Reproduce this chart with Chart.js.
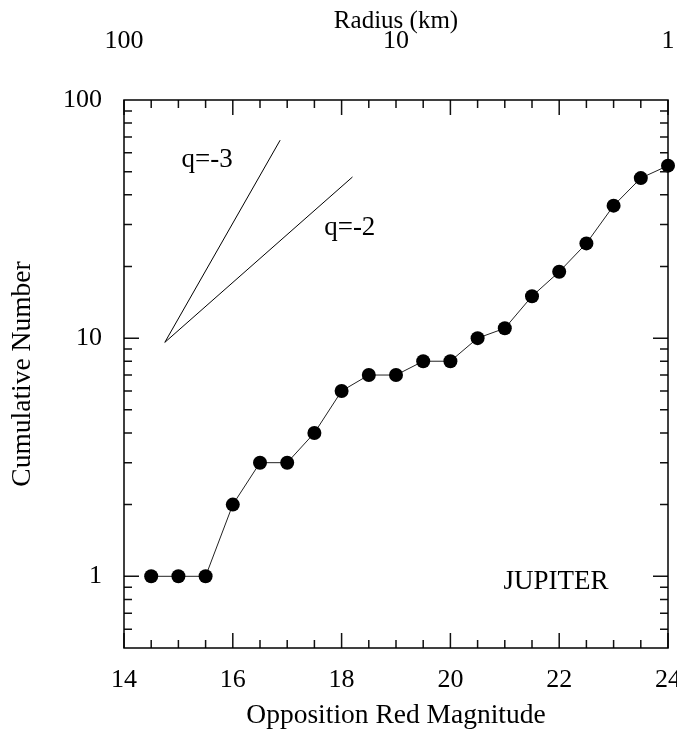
<!DOCTYPE html>
<html>
<head>
<meta charset="utf-8">
<script src="https://cdn.jsdelivr.net/npm/chart.js@4"></script>
<style>
  body { margin: 0; background: #fff; }
</style>
</head>
<body>
<canvas id="chart" width="677" height="743"></canvas>
<script>
// cumulative counts vs opposition red magnitude
const magnitudes = [14.5, 15, 15.5, 16, 16.5, 17, 17.5, 18, 18.5, 19, 19.5, 20, 20.5, 21, 21.5, 22, 22.5, 23, 23.5, 24];
const cumulative = [1, 1, 1, 2, 3, 3, 4, 6, 7, 7, 8, 8, 10, 11, 15, 19, 25, 36, 47, 53];

// reference slopes
const slopeQ3x = [14.75, 16.87];
const slopeQ3y = [9.6, 67.8];
const slopeQ2x = [14.75, 18.2];
const slopeQ2y = [9.6, 47.5];

// tick labels
const magTicks = [14, 16, 18, 20, 22, 24];
const countTicks = [1, 10, 100];
const radiusTicks = [1, 10, 100];

// text notes inside the plot
const noteText = ['q=-3', 'q=-2', 'JUPITER'];
const noteMag = [15.53, 18.15, 21.94];
const noteCount = [56, 29, 0.95];

const FAMILY = '"Liberation Serif", "Times New Roman", serif';
Chart.defaults.color = '#000';
Chart.defaults.font.family = FAMILY;

const font = size => ({ family: FAMILY, size: size });
const toPoints = (xs, ys) => xs.map((x, i) => ({ x: x, y: ys[i] }));

// inward tick marks on all four sides + frame + notes
const framePlugin = {
  id: 'frame',
  afterDatasetsDraw(chart) {
    const ctx = chart.ctx;
    const a = chart.chartArea;
    const x = chart.scales.x;
    const y = chart.scales.y;
    ctx.save();
    ctx.strokeStyle = '#111';
    ctx.lineWidth = 1.5;

    ctx.beginPath();
    for (let m = 14; m <= 24.001; m += 0.5) {
      const px = x.getPixelForValue(m);
      const len = (m % 2 === 0) ? 15 : 8;
      ctx.moveTo(px, a.bottom); ctx.lineTo(px, a.bottom - len);
      ctx.moveTo(px, a.top); ctx.lineTo(px, a.top + len);
    }
    for (let dec = 0.1; dec < 100; dec *= 10) {
      for (let k = 1; k <= 9; k++) {
        const v = dec * k;
        if (v < 0.55 || v > 100) continue;
        const py = y.getPixelForValue(v);
        const len = (k === 1) ? 15 : 8;
        ctx.moveTo(a.left, py); ctx.lineTo(a.left + len, py);
        ctx.moveTo(a.right, py); ctx.lineTo(a.right - len, py);
      }
    }
    ctx.stroke();

    ctx.strokeStyle = '#000';
    ctx.strokeRect(a.left, a.top, a.right - a.left, a.bottom - a.top);

    ctx.fillStyle = '#000';
    ctx.font = '27px ' + FAMILY;
    ctx.textAlign = 'center';
    ctx.textBaseline = 'middle';
    noteText.forEach((t, i) => {
      ctx.fillText(t, x.getPixelForValue(noteMag[i]), y.getPixelForValue(noteCount[i]));
    });
    ctx.restore();
  }
};

const ctx = document.getElementById('chart').getContext('2d');
new Chart(ctx, {
  type: 'line',
  data: {
    datasets: [
      {
        label: 'Jupiter',
        data: toPoints(magnitudes, cumulative),
        borderColor: '#222',
        borderWidth: 1,
        backgroundColor: '#000',
        pointRadius: 7,
        pointBorderWidth: 0,
        pointBackgroundColor: '#000',
        tension: 0,
        clip: false
      },
      {
        label: 'q=-3',
        data: toPoints(slopeQ3x, slopeQ3y),
        borderColor: '#000',
        borderWidth: 1,
        pointRadius: 0
      },
      {
        label: 'q=-2',
        data: toPoints(slopeQ2x, slopeQ2y),
        borderColor: '#000',
        borderWidth: 1,
        pointRadius: 0
      }
    ]
  },
  options: {
    responsive: false,
    animation: false,
    layout: { padding: { right: 9 } },
    plugins: {
      legend: { display: false },
      tooltip: { enabled: false }
    },
    scales: {
      x: {
        type: 'linear',
        position: 'bottom',
        min: 14,
        max: 24,
        afterBuildTicks: s => { s.ticks = magTicks.map(v => ({ value: v })); },
        afterFit: s => { s.height = 95; s.paddingLeft = 0; s.paddingRight = 0; },
        grid: { display: false, drawTicks: false },
        border: { display: false },
        ticks: { padding: 17, font: font(26), callback: v => String(v) },
        title: {
          display: true,
          text: 'Opposition Red Magnitude',
          font: font(27.5),
          padding: { top: 0, bottom: 11 }
        }
      },
      radius: {
        type: 'logarithmic',
        position: 'top',
        min: 1,
        max: 100,
        reverse: true,
        afterBuildTicks: s => { s.ticks = radiusTicks.map(v => ({ value: v })); },
        afterFit: s => { s.height = 100; s.paddingLeft = 0; s.paddingRight = 0; },
        grid: { display: false, drawTicks: false },
        border: { display: false },
        ticks: { padding: 43, font: font(26), callback: v => String(v) },
        title: {
          display: true,
          text: 'Radius (km)',
          font: font(25),
          padding: { top: 6, bottom: 0 }
        }
      },
      y: {
        type: 'logarithmic',
        position: 'left',
        min: 0.5,
        max: 100,
        afterBuildTicks: s => { s.ticks = countTicks.map(v => ({ value: v })); },
        afterFit: s => { s.width = 124; s.paddingTop = 0; s.paddingBottom = 0; },
        grid: { display: false, drawTicks: false },
        border: { display: false },
        ticks: { padding: 22, font: font(26), callback: v => String(v) },
        title: {
          display: true,
          text: 'Cumulative Number',
          font: font(27.5),
          padding: { top: 6, bottom: 0 }
        }
      }
    }
  },
  plugins: [framePlugin]
});
</script>
</body>
</html>
